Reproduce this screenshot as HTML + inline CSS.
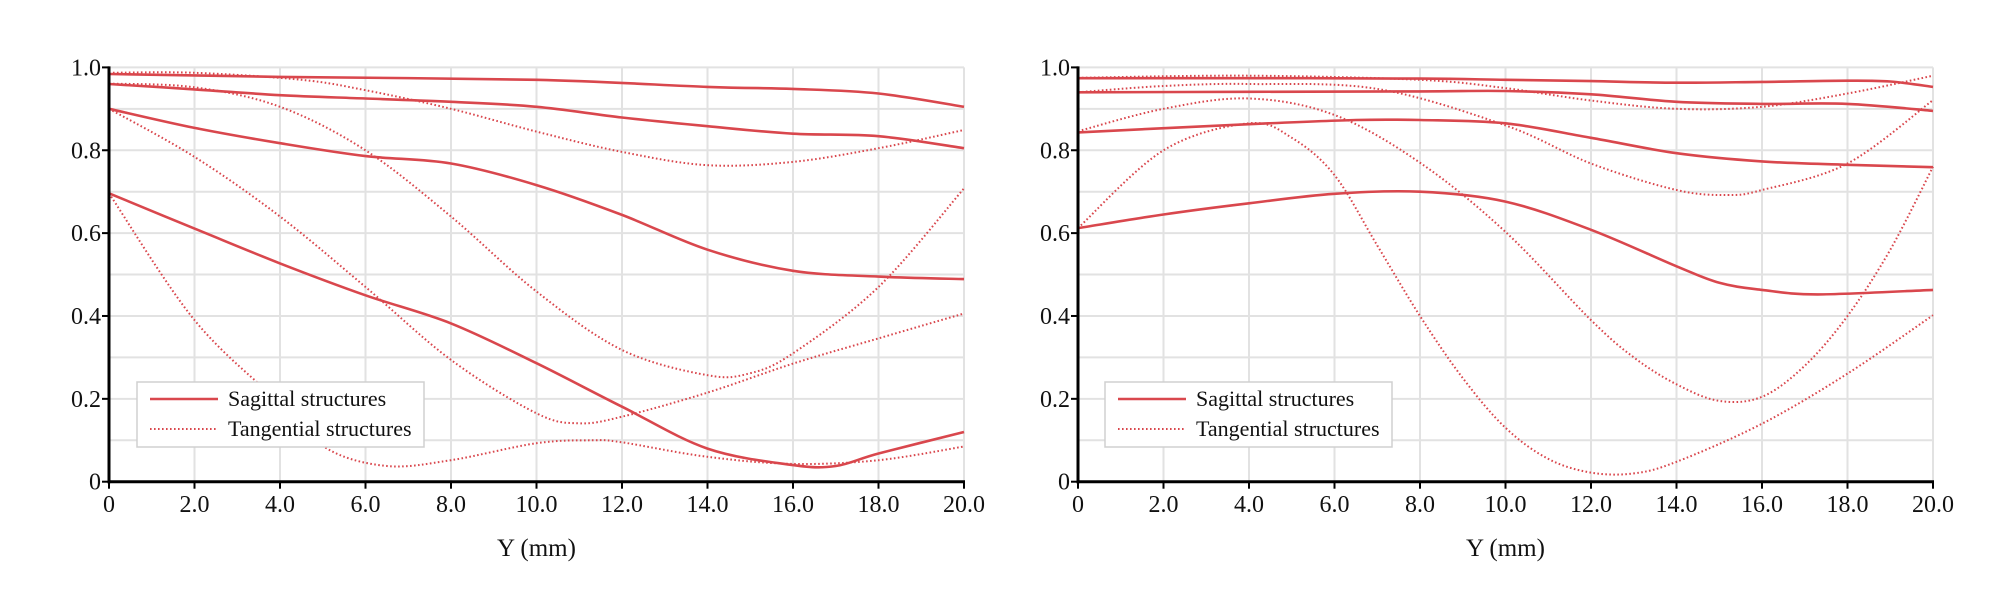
<!DOCTYPE html>
<html><head><meta charset="utf-8"><style>
html,body{margin:0;padding:0;background:#fff;}
svg{display:block;font-family:"Liberation Serif",serif;}
</style></head><body>
<svg id="s" width="2000" height="603" viewBox="0 0 2000 603" xmlns="http://www.w3.org/2000/svg"></svg>
<script>
const NS="http://www.w3.org/2000/svg";
const svg=document.getElementById('s');
function el(t,a,txt){const e=document.createElementNS(NS,t);for(const k in a)e.setAttribute(k,a[k]);if(txt!==undefined)e.textContent=txt;svg.appendChild(e);return e;}
const Y0=481.7,YS=414.3;
const RED="#d9474d";
function chart(x0,series,legX){
  const XS=855/20;
  const X=v=>x0+v*XS, Yv=v=>Y0-v*YS;
  for(let i=1;i<=10;i++){el('line',{x1:x0,x2:X(20),y1:Yv(i/10),y2:Yv(i/10),stroke:'#e2e2e2','stroke-width':2});}
  for(let i=1;i<=10;i++){el('line',{x1:X(i*2),x2:X(i*2),y1:Yv(1),y2:Y0,stroke:'#e2e2e2','stroke-width':2});}
  for(const s of series){
    const p=s.pts.map(q=>[X(q[0]),Yv(q[1])]);
    let d='M'+p[0][0].toFixed(1)+','+p[0][1].toFixed(1);
    for(let i=0;i<p.length-1;i++){
      const a=p[i-1]||p[i],b=p[i],c=p[i+1],e=p[i+2]||c;
      const c1=[b[0]+(c[0]-a[0])/6,b[1]+(c[1]-a[1])/6],c2=[c[0]-(e[0]-b[0])/6,c[1]-(e[1]-b[1])/6];
      d+=' C'+c1[0].toFixed(1)+','+c1[1].toFixed(1)+' '+c2[0].toFixed(1)+','+c2[1].toFixed(1)+' '+c[0].toFixed(1)+','+c[1].toFixed(1);
    }
    const a={d:d,fill:'none',stroke:RED,'stroke-width':s.dot?2:2.6};
    if(s.dot){a['stroke-dasharray']='1.6 2.4';}
    el('path',a);
  }
  el('line',{x1:x0,x2:x0,y1:Yv(1)-1,y2:Y0+1.5,stroke:'#000','stroke-width':3});
  el('line',{x1:x0-1.5,x2:X(20)+1,y1:Y0,y2:Y0,stroke:'#000','stroke-width':3});
  const yl=['0','0.2','0.4','0.6','0.8','1.0'];
  for(let i=0;i<=5;i++){const y=Yv(i*0.2);
    el('line',{x1:x0-7,x2:x0,y1:y,y2:y,stroke:'#000','stroke-width':2});
    el('text',{x:x0-8,y:y+8,'text-anchor':'end','font-size':24,fill:'#111'},yl[i]);}
  for(let i=0;i<=10;i++){const x=X(i*2);
    el('line',{x1:x,x2:x,y1:Y0,y2:Y0+7,stroke:'#000','stroke-width':2});
    el('text',{x:x,y:512,'text-anchor':'middle','font-size':24,fill:'#111'},i==0?'0':(i*2).toFixed(1));}
  el('text',{x:X(10),y:556,'text-anchor':'middle','font-size':25,fill:'#111'},'Y (mm)');
  el('rect',{x:legX,y:382,width:287,height:65,fill:'#fff',stroke:'#d0d0d0','stroke-width':1.5});
  el('line',{x1:legX+13,x2:legX+81,y1:399,y2:399,stroke:RED,'stroke-width':2.6});
  el('line',{x1:legX+13,x2:legX+81,y1:429,y2:429,stroke:RED,'stroke-width':2,'stroke-dasharray':'1.6 2.4'});
  el('text',{x:legX+91,y:406,'font-size':22,fill:'#111'},'Sagittal structures');
  el('text',{x:legX+91,y:436,'font-size':22,fill:'#111'},'Tangential structures');
}
const L=[
 {pts:[[0,0.984],[4,0.977],[10,0.97],[14,0.953],[16,0.948],[18,0.937],[20,0.905]]},
 {pts:[[0,0.96],[2,0.947],[4,0.933],[6,0.925],[8,0.917],[10,0.905],[12,0.879],[14,0.858],[16,0.84],[18,0.834],[20,0.805]]},
 {pts:[[0,0.9],[2,0.854],[4,0.817],[6,0.786],[8,0.768],[10,0.716],[12,0.644],[14,0.56],[16,0.509],[18,0.495],[20,0.489]]},
 {pts:[[0,0.696],[2,0.611],[4,0.527],[6,0.45],[8,0.382],[10,0.286],[12,0.181],[14,0.08],[16,0.04],[17,0.038],[18,0.068],[20,0.12]]},
 {dot:1,pts:[[0,0.987],[2,0.987],[4.5,0.97],[6,0.945],[8,0.9],[10,0.845],[12,0.796],[14,0.764],[16,0.772],[18,0.805],[20,0.849]]},
 {dot:1,pts:[[0,0.961],[2,0.952],[4,0.905],[6,0.8],[8,0.64],[10,0.459],[12,0.318],[14,0.257],[15,0.262],[16,0.31],[18,0.47],[20,0.708]]},
 {dot:1,pts:[[0,0.9],[2,0.784],[4,0.64],[6,0.47],[8,0.294],[10,0.165],[11,0.141],[12,0.157],[14,0.215],[16,0.285],[18,0.346],[20,0.406]]},
 {dot:1,pts:[[0,0.696],[2,0.39],[4,0.19],[5.1,0.08],[6.5,0.038],[8,0.052],[10,0.093],[11.3,0.1],[12,0.095],[14,0.06],[16,0.043],[18,0.052],[20,0.085]]}
];
const R=[
 {pts:[[0,0.974],[4,0.974],[8,0.973],[10,0.97],[12,0.967],[14,0.963],[16,0.965],[18,0.968],[19,0.966],[20,0.953]]},
 {pts:[[0,0.94],[4,0.941],[8,0.942],[10,0.943],[12,0.935],[14,0.917],[16,0.912],[18,0.912],[20,0.895]]},
 {pts:[[0,0.843],[4,0.863],[6.5,0.873],[8,0.873],[10,0.865],[12,0.83],[14,0.793],[16,0.773],[18,0.765],[20,0.759]]},
 {pts:[[0,0.612],[2,0.645],[4,0.672],[6,0.695],[8,0.7],[10,0.676],[12,0.608],[14,0.52],[15,0.48],[16,0.463],[17.3,0.452],[20,0.463]]},
 {dot:1,pts:[[0,0.975],[4,0.98],[8,0.97],[10,0.95],[12,0.92],[14,0.9],[16,0.905],[18,0.937],[20,0.98]]},
 {dot:1,pts:[[0,0.94],[2,0.955],[4,0.96],[7,0.948],[10,0.86],[12,0.768],[14,0.704],[15.2,0.692],[16,0.704],[18,0.768],[20,0.921]]},
 {dot:1,pts:[[0,0.846],[2,0.9],[4,0.925],[6,0.885],[8,0.77],[10,0.603],[12,0.39],[13,0.3],[14,0.235],[15,0.195],[16,0.205],[17,0.28],[18,0.4],[19,0.56],[20,0.76]]},
 {dot:1,pts:[[0,0.612],[2,0.8],[4,0.865],[5,0.83],[6,0.74],[7,0.57],[8,0.4],[9,0.25],[10,0.13],[11,0.055],[12,0.022],[13,0.02],[14,0.048],[16,0.14],[18,0.261],[20,0.402]]}
];
chart(109,L,137);
chart(1078,R,1105);
</script>
</body></html>
